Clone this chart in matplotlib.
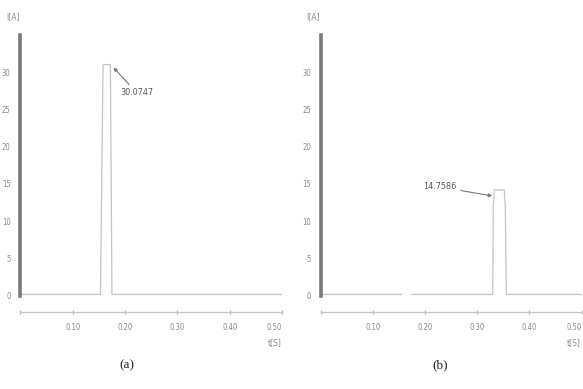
import matplotlib.pyplot as plt

# current waveforms (time in s, current in A)
t_a = [0.0, 0.153, 0.158, 0.172, 0.175, 0.5]
i_a = [0.2, 0.2, 31.0, 31.0, 0.2, 0.2]
peak_a = "30.0747"

# panel (b) baseline has a small gap between ~0.155 and ~0.175 s
t_b = [0.0, 0.155, None, 0.175, 0.330, 0.331, 0.333, 0.352, 0.354, 0.356, 0.5]
i_b = [0.2, 0.2, None, 0.2, 0.2, 12.0, 14.2, 14.2, 12.0, 0.2, 0.2]
peak_b = "14.7586"

x_ticks = [0.10, 0.20, 0.30, 0.40, 0.50]
x_labels = ["0.10", "0.20", "0.30", "0.40", "0.50"]
y_ticks = [0, 5, 10, 15, 20, 25, 30]

W, H = 583, 389
fig = plt.figure(figsize=(W / 100, H / 100), dpi=100)

TXT = "#8a8a8a"
LINE = "#c4c4c4"


def px_axes(x0, x1, y_top, y_bot):
    return fig.add_axes([x0 / W, 1 - y_bot / H, (x1 - x0) / W, (y_bot - y_top) / H])


def draw_panel(ax, t, i, peak_txt, xy_peak, xy_txt, caption, cap_x):
    t_plot = [float("nan") if v is None else v for v in t]
    i_plot = [float("nan") if v is None else v for v in i]
    ax.plot(t_plot, i_plot, color=LINE, lw=0.9)
    ax.set_xlim(0, 0.5)
    ax.set_ylim(-2.5, 35.5)

    for s in ["top", "right"]:
        ax.spines[s].set_visible(False)
    ax.spines["left"].set_bounds(0, 35)
    ax.spines["left"].set_linewidth(2.6)
    ax.spines["left"].set_color("#7a7a7a")
    ax.spines["bottom"].set_position(("data", -2.2))
    ax.spines["bottom"].set_color(LINE)
    ax.spines["bottom"].set_linewidth(0.9)

    ax.set_yticks(y_ticks)
    ax.set_yticklabels([str(v) for v in y_ticks])
    ax.tick_params(axis="y", length=0, pad=7, labelsize=5.5, labelcolor=TXT)
    ax.set_xticks([0.0] + x_ticks)
    ax.set_xticklabels([""] + x_labels)
    ax.tick_params(axis="x", direction="inout", length=3, width=0.8, color="#b0b0b0",
                   pad=6, labelsize=5.5, labelcolor=TXT)
    for lab in ax.get_xticklabels() + ax.get_yticklabels():
        lab.set_fontstretch("condensed")
    # last label sits flush with the end of the axis, as in the original
    ax.get_xticklabels()[-1].set_horizontalalignment("right")

    ax.text(-0.027, 36.8, "I[A]", fontsize=5.5, color=TXT, ha="left", va="bottom")
    ax.text(0.499, -5.6, "t[S]", fontsize=5.5, color=TXT, ha="right", va="top")

    ax.annotate(peak_txt, xy=xy_peak, xytext=xy_txt, fontsize=6.5, color="#555555",
                ha="left", va="center", fontstretch="condensed",
                arrowprops=dict(arrowstyle="-|>", color="#777777", lw=0.8,
                                mutation_scale=5, shrinkA=1, shrinkB=0))
    fig.text(cap_x / W, 1 - 365 / H, caption, fontsize=9.5, family="Liberation Serif",
             ha="center", va="center", color="#222222")


ax_a = px_axes(20.4, 282, 31, 314.6)
draw_panel(ax_a, t_a, i_a, peak_a, (0.178, 30.6), (0.191, 27.2), "(a)", 127)

ax_b = px_axes(320.5, 581.5, 31, 314.6)
draw_panel(ax_b, t_b, i_b, peak_b, (0.329, 13.4), (0.197, 14.6), "(b)", 440)

fig.savefig("out.png", dpi=100)
